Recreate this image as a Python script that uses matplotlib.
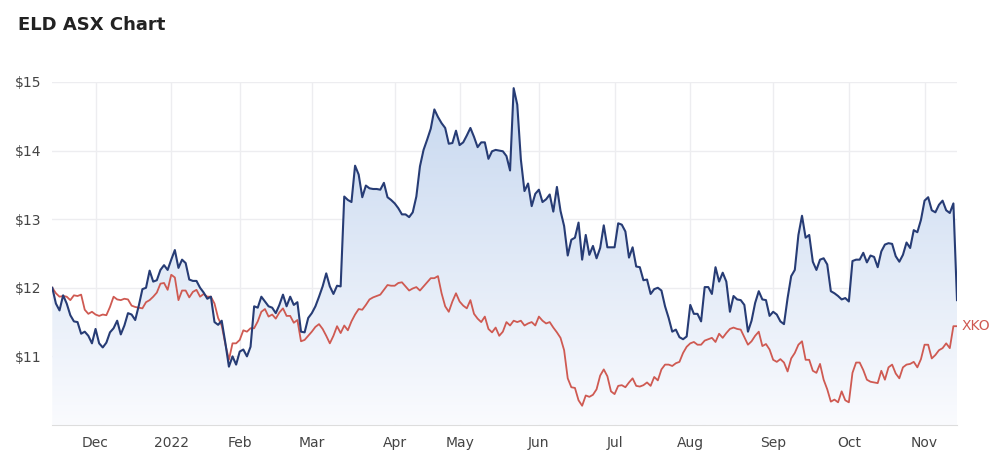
import matplotlib
import numpy as np
import pandas as pd

matplotlib.use('Agg')
import matplotlib.pyplot as plt
from matplotlib.colors import LinearSegmentedColormap
from matplotlib.patches import Polygon

# trading days, ASX holidays removed
holidays = ['2021-12-27', '2021-12-28', '2022-01-03', '2022-01-26', '2022-04-15',
            '2022-04-18', '2022-04-25', '2022-06-13', '2022-09-22']
dates = pd.bdate_range('2021-11-15', '2022-11-14')
dates = dates[~dates.isin(pd.to_datetime(holidays))]

eld = [12.00, 11.77, 11.67, 11.89, 11.77, 11.60, 11.51, 11.50, 11.33, 11.36,
       11.30, 11.19, 11.40, 11.19, 11.13, 11.20, 11.35, 11.41, 11.52, 11.32,
       11.45, 11.63, 11.61, 11.53, 11.74, 11.98, 12.00, 12.25, 12.09, 12.11,
       12.26, 12.33, 12.26, 12.41, 12.55, 12.29, 12.41, 12.36, 12.12, 12.10,
       12.10, 12.00, 11.93, 11.84, 11.87, 11.50, 11.46, 11.52, 11.20, 10.85,
       11.00, 10.88, 11.07, 11.10, 11.00, 11.14, 11.73, 11.71, 11.87, 11.80,
       11.73, 11.71, 11.63, 11.75, 11.90, 11.73, 11.87, 11.75, 11.79, 11.36,
       11.35, 11.56, 11.63, 11.73, 11.87, 12.02, 12.21, 12.02, 11.91, 12.03,
       12.02, 13.33, 13.28, 13.25, 13.78, 13.65, 13.32, 13.49, 13.45, 13.44,
       13.44, 13.43, 13.53, 13.32, 13.28, 13.23, 13.16, 13.07, 13.07, 13.03,
       13.10, 13.33, 13.77, 14.01, 14.16, 14.32, 14.60, 14.49, 14.40, 14.33,
       14.10, 14.11, 14.29, 14.08, 14.12, 14.22, 14.33, 14.20, 14.05, 14.12,
       14.12, 13.88, 13.99, 14.01, 14.00, 13.99, 13.92, 13.71, 14.91, 14.67,
       13.87, 13.41, 13.52, 13.19, 13.37, 13.43, 13.25, 13.29, 13.36, 13.11,
       13.47, 13.12, 12.90, 12.47, 12.70, 12.73, 12.95, 12.41, 12.77, 12.48,
       12.61, 12.43, 12.58, 12.91, 12.59, 12.59, 12.59, 12.94, 12.92, 12.82,
       12.44, 12.59, 12.31, 12.30, 12.11, 12.12, 11.91, 11.98, 12.00, 11.96,
       11.73, 11.56, 11.36, 11.39, 11.28, 11.25, 11.29, 11.75, 11.62, 11.62,
       11.51, 12.01, 12.01, 11.91, 12.30, 12.09, 12.22, 12.09, 11.65, 11.88,
       11.83, 11.82, 11.75, 11.36, 11.52, 11.78, 11.95, 11.83, 11.82, 11.59,
       11.65, 11.61, 11.51, 11.47, 11.85, 12.17, 12.26, 12.77, 13.05, 12.73,
       12.77, 12.38, 12.26, 12.41, 12.43, 12.34, 11.95, 11.92, 11.88, 11.83,
       11.85, 11.80, 12.39, 12.41, 12.41, 12.51, 12.37, 12.47, 12.45, 12.30,
       12.53, 12.63, 12.65, 12.64, 12.46, 12.38, 12.48, 12.66, 12.58, 12.84,
       12.81, 12.99, 13.27, 13.32, 13.13, 13.10, 13.21, 13.27, 13.13, 13.09,
       13.23, 11.82]

xko = [12.00, 11.92, 11.87, 11.88, 11.87, 11.82, 11.89, 11.88, 11.90, 11.68,
       11.62, 11.65, 11.61, 11.59, 11.61, 11.60, 11.72, 11.87, 11.83, 11.82,
       11.84, 11.83, 11.74, 11.72, 11.71, 11.70, 11.79, 11.82, 11.87, 11.93,
       12.06, 12.07, 11.97, 12.19, 12.15, 11.82, 11.96, 11.96, 11.86, 11.94,
       11.97, 11.87, 11.91, 11.87, 11.87, 11.77, 11.56, 11.45, 11.18, 10.95,
       11.19, 11.19, 11.24, 11.38, 11.36, 11.41, 11.41, 11.51, 11.65, 11.69,
       11.58, 11.61, 11.55, 11.64, 11.70, 11.59, 11.59, 11.49, 11.53, 11.22,
       11.24, 11.30, 11.36, 11.43, 11.47, 11.40, 11.30, 11.19, 11.30, 11.44,
       11.34, 11.45, 11.38, 11.51, 11.61, 11.69, 11.68, 11.75, 11.83, 11.86,
       11.88, 11.90, 11.97, 12.04, 12.03, 12.03, 12.07, 12.08, 12.02, 11.96,
       11.99, 12.01, 11.96, 12.02, 12.08, 12.14, 12.14, 12.17, 11.92, 11.73,
       11.65, 11.80, 11.92, 11.80, 11.74, 11.70, 11.82, 11.62, 11.55, 11.50,
       11.58, 11.40, 11.35, 11.42, 11.30, 11.36, 11.50, 11.45, 11.52, 11.50,
       11.52, 11.45, 11.48, 11.50, 11.45, 11.58, 11.52, 11.48, 11.50, 11.42,
       11.35, 11.27, 11.09, 10.68, 10.55, 10.54, 10.36, 10.28, 10.43, 10.41,
       10.44, 10.52, 10.72, 10.81, 10.71, 10.49, 10.45, 10.57, 10.58, 10.55,
       10.62, 10.68, 10.57, 10.56, 10.58, 10.62, 10.57, 10.70, 10.65, 10.81,
       10.88, 10.88, 10.86, 10.90, 10.92, 11.05, 11.14, 11.19, 11.21, 11.17,
       11.17, 11.23, 11.25, 11.27, 11.21, 11.33, 11.27, 11.34, 11.40, 11.42,
       11.40, 11.39, 11.28, 11.17, 11.22, 11.30, 11.36, 11.15, 11.18, 11.10,
       10.95, 10.92, 10.96, 10.91, 10.78, 10.97, 11.05, 11.17, 11.22, 10.95,
       10.95, 10.79, 10.76, 10.89, 10.66, 10.52, 10.34, 10.37, 10.33, 10.49,
       10.36, 10.33, 10.76, 10.91, 10.91, 10.80, 10.66, 10.63, 10.62, 10.61,
       10.79, 10.66, 10.84, 10.88, 10.75, 10.68, 10.84, 10.88, 10.89, 10.92,
       10.84, 10.96, 11.17, 11.17, 10.97, 11.02, 11.09, 11.12, 11.19, 11.12,
       11.44, 11.44]

y_ticks = [11, 12, 13, 14, 15]

x = np.arange(len(eld))
months = pd.Series(dates.month)
tick_pos = [i for i in range(1, len(dates)) if months[i] != months[i - 1]]
tick_lab = [str(dates[i].year) if dates[i].month == 1 else dates[i].strftime('%b') for i in tick_pos]

navy = '#273c75'
red = '#cf5a52'
grid = '#ededf0'

fig = plt.figure(figsize=(10, 4.55), dpi=100)
ax = fig.add_axes([0.0523, 0.066, 0.9047, 0.7538])
ax.set_xlim(0, len(eld) - 1)
ax.set_ylim(10, 15)

# gradient fill under the ELD line
cmap = LinearSegmentedColormap.from_list('fade', ['#fafbfe', '#c6d7ef'])
grad = ax.imshow(np.linspace(0, 1, 256).reshape(-1, 1), extent=[0, len(eld) - 1, 10, 15],
                 origin='lower', aspect='auto', cmap=cmap, zorder=1)
verts = list(zip(x, eld)) + [(x[-1], 10), (0, 10)]
poly = Polygon(verts, closed=True, facecolor='none', edgecolor='none')
ax.add_patch(poly)
grad.set_clip_path(poly)

ax.plot(x, xko, color=red, lw=1.3, zorder=3)
ax.plot(x, eld, color=navy, lw=1.5, zorder=4)
ax.text(len(eld) + 0.3, xko[-1], 'XKO', color=red, fontsize=10, va='center', ha='left',
        clip_on=False)

ax.set_yticks(y_ticks)
ax.set_yticklabels([f'${v}' for v in y_ticks])
ax.set_xticks(tick_pos)
ax.set_xticklabels(tick_lab)
ax.tick_params(length=0, labelsize=10, labelcolor='#444444', pad=8)
ax.grid(True, color=grid, lw=1, zorder=0)
ax.set_axisbelow(True)
for side in ['top', 'right', 'left']:
    ax.spines[side].set_visible(False)
ax.spines['bottom'].set_color('#dddddd')

fig.text(0.018, 0.945, 'ELD ASX Chart', fontsize=13, fontweight='bold', color='#222222',
         va='center', ha='left')

fig.savefig('out.png')
